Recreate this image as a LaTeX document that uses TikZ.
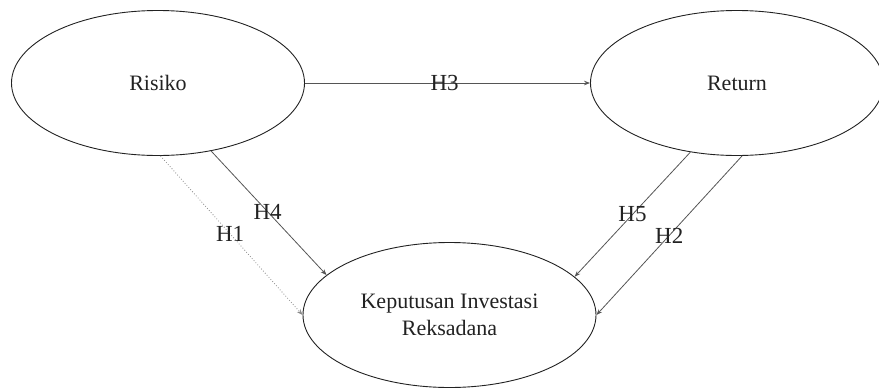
\documentclass[tikz,border=0pt]{standalone}
\usepackage{fontspec}
\setmainfont{Liberation Serif}
\usetikzlibrary{shapes.geometric,arrows.meta}

\definecolor{inkdark}{HTML}{222222}
\definecolor{edgegray}{HTML}{555555}
\definecolor{dotgray}{HTML}{8A8A8A}

\tikzset{
  construct/.style={ellipse, draw=inkdark, line width=0.9pt,
    minimum width=293pt, minimum height=145pt, inner sep=0pt,
    text=inkdark, font=\fontsize{22}{27}\selectfont, align=center},
  path arrow/.style={draw=edgegray, line width=0.8pt,
    -{Stealth[length=6pt,width=4.5pt]}},
  weak arrow/.style={draw=dotgray, line width=0.8pt, dotted,
    -{Stealth[length=6pt,width=4.5pt]}},
  hyp/.style={text=inkdark, font=\fontsize{23}{27}\selectfont, inner sep=0pt}
}

\begin{document}
\begin{tikzpicture}[x=1pt,y=-1pt]
  \useasboundingbox (0,0) rectangle (879,389);

  % latent constructs
  \node[construct] (ris) at (158,83) {Risiko};
  \node[construct] (ret) at (737,83) {Return};
  \node[construct] (kep) at (449.5,315) {Keputusan Investasi\\Reksadana};

  % hypothesised paths
  \draw[path arrow] (ris.east) -- node[hyp, pos=0.49] {H3} (ret.west);
  \draw[path arrow] (ris.-52) -- node[hyp, pos=0.49] {H4} (kep.162);
  \draw[weak arrow] (ris.-88.5) -- node[hyp, pos=0.49] {H1} (kep.west);
  \draw[path arrow] (ret.-124) -- node[hyp, pos=0.5] {H5} (kep.17.5);
  \draw[path arrow] (ret.-86) -- node[hyp, pos=0.5] {H2} (kep.east);
\end{tikzpicture}
\end{document}
